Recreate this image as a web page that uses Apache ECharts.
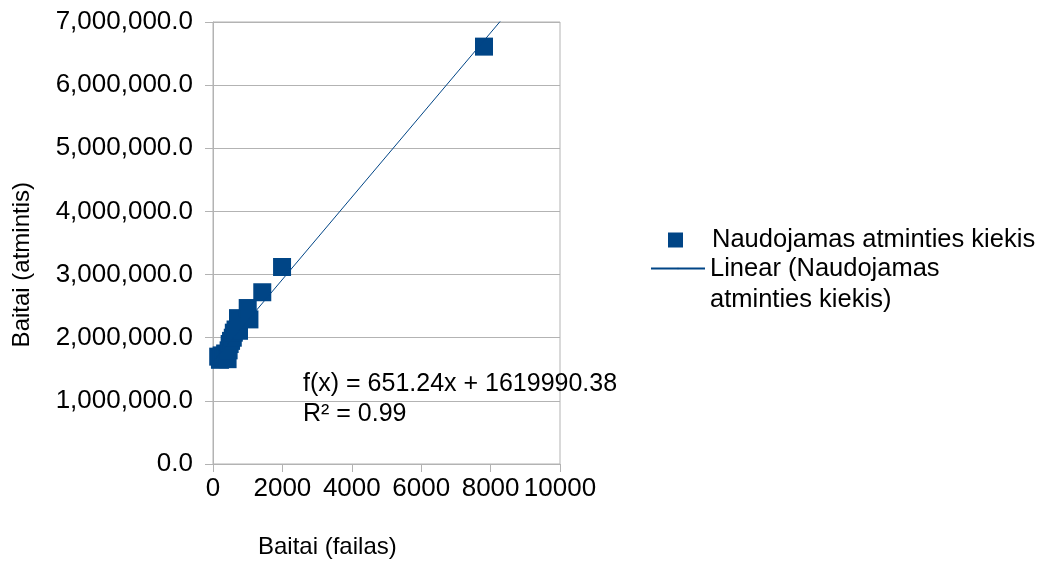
<!DOCTYPE html>
<html>
<head>
<meta charset="utf-8">
<script src="https://cdn.jsdelivr.net/npm/echarts@6/dist/echarts.min.js"></script>
<style>html,body{margin:0;padding:0;background:#fff}#c{width:1040px;height:562px}</style>
</head>
<body>
<div id="c"></div>
<script>
// Data
var fileBytes   = [150, 200, 250, 300, 350, 420, 450, 480, 520, 570, 600, 650, 720, 750, 1000, 1050, 1420, 1990, 7810];
var memoryBytes = [1700000, 1650000, 1720000, 1680000, 1750000, 1660000, 1800000, 1900000, 1950000, 2000000, 2080000, 2130000, 2310000, 2110000, 2470000, 2290000, 2720000, 3120000, 6610000];
var seriesName = 'Naudojamas atminties kiekis';
var trendName = 'Linear (Naudojamas atminties kiekis)';
var trendLegendLines = ['Linear (Naudojamas', 'atminties kiekis)'];
var trendSlope = 651.24;
var trendIntercept = 1619990.38;
var trendR2 = 0.99;
var xTitle = 'Baitai (failas)';
var yTitle = 'Baitai (atmintis)';

var points = fileBytes.map(function (x, i) { return [x, memoryBytes[i]]; });
var trendXs = [0, 10000];
var trendLine = trendXs.map(function (x) { return [x, trendSlope * x + trendIntercept]; });

function fmtY(v) {
  var s = Math.round(v).toString().replace(/\B(?=(\d{3})+(?!\d))/g, ',');
  return s + '.0';
}

var FONT = 'Liberation Sans, Arial, sans-serif';
var chart = echarts.init(document.getElementById('c'), null, {renderer: 'canvas'});
chart.setOption({
  animation: false,
  backgroundColor: '#fff',
  textStyle: {fontFamily: FONT, color: '#000'},
  grid: {left: 213, right: 480, top: 22, bottom: 98, show: true, borderColor: '#b3b3b3', borderWidth: 1},
  xAxis: {
    type: 'value', min: 0, max: 10000, interval: 2000,
    axisLine: {show: true, lineStyle: {color: '#b3b3b3'}},
    axisTick: {show: true, length: 8, lineStyle: {color: '#b3b3b3'}},
    splitLine: {show: false},
    axisLabel: {color: '#000', fontSize: 26, fontFamily: FONT, margin: 12, formatter: function (v) { return String(v); }}
  },
  yAxis: {
    type: 'value', min: 0, max: 7000000, interval: 1000000,
    axisLine: {show: true, lineStyle: {color: '#b3b3b3'}},
    axisTick: {show: true, length: 8, lineStyle: {color: '#b3b3b3'}},
    splitLine: {show: true, lineStyle: {color: '#b3b3b3'}},
    axisLabel: {color: '#000', fontSize: 26, fontFamily: FONT, margin: 20, formatter: fmtY}
  },
  legend: [
    {
      data: [{name: seriesName, icon: 'rect'}],
      left: 663, top: 222, itemWidth: 15, itemHeight: 15,
      formatter: function (n) { return '{sp|}{t|' + n + '}'; },
      textStyle: {
        fontSize: 25.5, fontFamily: FONT, color: '#000',
        rich: {sp: {width: 24}, t: {fontSize: 25.5, fontFamily: FONT, color: '#000'}}
      },
      itemGap: 0
    },
    {
      data: [{name: trendName}],
      left: 645, top: 217, itemWidth: 54, itemHeight: 2,
      formatter: function () { return '\n' + trendLegendLines.join('\n'); },
      textStyle: {fontSize: 25.5, lineHeight: 31, fontFamily: FONT, color: '#000'}
    }
  ],
  series: [
    {
      name: seriesName, type: 'scatter', symbol: 'rect', symbolSize: 18,
      itemStyle: {color: '#004586', opacity: 1},
      data: points, z: 3
    },
    {
      name: trendName, type: 'line', data: trendLine, symbol: 'none', showSymbol: false,
      lineStyle: {color: '#004586', width: 1}, itemStyle: {color: '#004586'},
      clip: true, z: 4
    }
  ],
  graphic: [
    {type: 'text', left: 303, top: 372, style: {text: 'f(x) = ' + trendSlope + 'x + ' + trendIntercept, font: '25px ' + FONT, fill: '#000'}},
    {type: 'text', left: 303, top: 402, style: {text: 'R² = ' + trendR2, font: '25px ' + FONT, fill: '#000'}},
    {type: 'text', left: 258, top: 535, style: {text: xTitle, font: '24px ' + FONT, fill: '#000'}},
    {type: 'text', left: 10, top: 182, rotation: Math.PI / 2, style: {text: yTitle, font: '24px ' + FONT, fill: '#000'}}
  ]
});
</script>
</body>
</html>
